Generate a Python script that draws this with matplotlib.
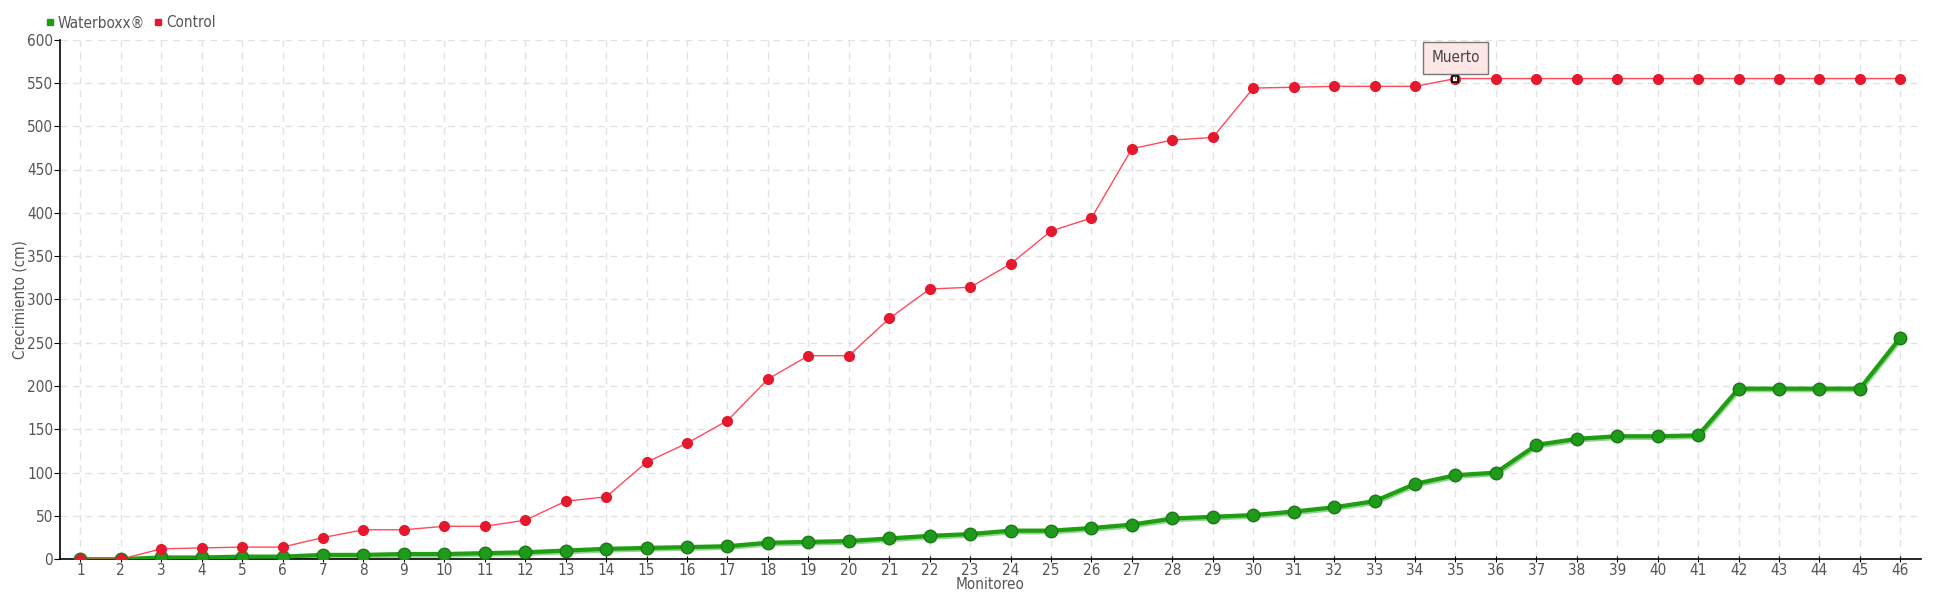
import numpy as np
import matplotlib.pyplot as plt
import matplotlib.transforms as mtransforms

# monitoring number (x) and growth in cm
monitoreo = list(range(1, 47))
waterboxx = [0, 0, 2, 2, 3, 3, 5, 5, 6, 6, 7, 8, 10, 12, 13, 14, 15, 19, 20, 21,
             24, 27, 29, 33, 33, 36, 40, 47, 49, 51, 55, 60, 67, 87, 97, 100, 132,
             139, 142, 142, 143, 197, 197, 197, 197, 256]
control = [0, 0, 12, 13, 14, 14, 25, 34, 34, 38, 38, 45, 67, 72, 112, 134, 160,
           208, 235, 235, 278, 312, 314, 341, 379, 394, 474, 484, 487, 544, 545,
           546, 546, 546, 555, 555, 555, 555, 555, 555, 555, 555, 555, 555, 555, 555]
muerto_idx = 34  # point 35 of Control

plt.rcParams['font.family'] = ['DejaVu Sans']
plt.rcParams['font.stretch'] = 'condensed'
txt = '#555555'

fig = plt.figure(figsize=(19.4, 6), dpi=100)
ax = fig.add_axes([0.031, 0.068, 0.959, 0.866])

# Waterboxx: light shadow line + thick green line
shadow = ax.transData + mtransforms.ScaledTranslation(1/100, -2/100, fig.dpi_scale_trans)
ax.plot(monitoreo, waterboxx, '-', color='#8fd48f', lw=2.5, transform=shadow, zorder=2)
ax.plot(monitoreo, waterboxx, '-', color='#1f9e12', lw=3, zorder=3)
ax.plot(monitoreo, waterboxx, 'o', color='#1f9a1a', mec='#187a14', mew=1, ms=9, zorder=4)

# Control
ax.plot(monitoreo, control, '-', color='#ff4a5a', lw=1, zorder=3)
ax.plot(monitoreo, control, 'o', color='#e5192d', mec='#e5192d', ms=7, zorder=4)
mx, my = monitoreo[muerto_idx], control[muerto_idx]
ax.plot([mx], [my], 's', color='white', mec='black', mew=1.2, ms=5, zorder=6)
ax.annotate('Muerto', xy=(mx, my), xytext=(0, 15), textcoords='offset points',
            ha='center', va='center', fontsize=11, color='#444444',
            bbox=dict(boxstyle='square,pad=0.55', fc='#fce6e6', ec='#777777', lw=1),
            arrowprops=dict(arrowstyle='-', color='#777777', lw=0.8), zorder=7)

ax.set_xlim(0.5, 46.5)
ax.set_ylim(0, 600)
ax.set_xticks(monitoreo)
ax.set_yticks(np.arange(0, 601, 50))
ax.grid(True, color='#e2e2e2', ls=(0, (5, 4)), lw=1)
ax.set_axisbelow(True)
for s in ['top', 'right']:
    ax.spines[s].set_visible(False)
for s in ['left', 'bottom']:
    ax.spines[s].set_color('black')
    ax.spines[s].set_linewidth(1.2)
ax.tick_params(axis='y', length=4, direction='out', labelsize=11, labelcolor=txt, pad=1)
ax.tick_params(axis='x', length=4, direction='inout', labelsize=11, labelcolor=txt, pad=1)

ax.set_xlabel('Monitoreo', fontsize=11, color=txt, labelpad=-1)
ax.set_ylabel('Crecimiento (cm)', fontsize=11, color=txt, labelpad=0)

# legend
ax.plot([], [], 's', color='#1f9e12', ms=5, label='Waterboxx®')
ax.plot([], [], 's', color='#e5192d', ms=5, label='Control')
h, l = ax.get_legend_handles_labels()
ax.legend(h[-2:], l[-2:], loc='lower left', bbox_to_anchor=(-0.013, 1.0), ncol=2,
          frameon=False, fontsize=11, handlelength=0.6, handletextpad=0.2,
          columnspacing=0.6, labelcolor=txt, borderaxespad=0.2)

fig.savefig('out.png', dpi=100)
